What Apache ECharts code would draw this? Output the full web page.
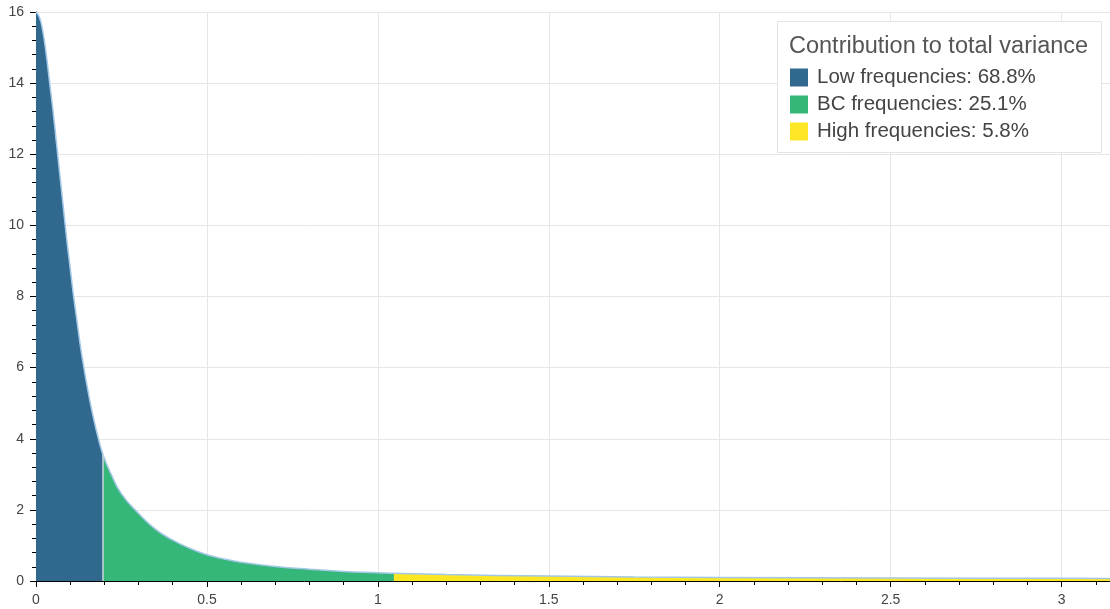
<!DOCTYPE html>
<html>
<head>
<meta charset="utf-8">
<title>Contribution to total variance</title>
<script src="https://cdn.jsdelivr.net/npm/echarts@6/dist/echarts.min.js"></script>
<style>
  html, body { margin: 0; padding: 0; background: #ffffff; }
  #chart { width: 1110px; height: 609px; }
</style>
</head>
<body>
<div id="chart"></div>
<script>
// band edges (2*pi/32 and 2*pi/6)
const bandEdges = [0.196, 1.047];

// spectrum, low frequency band
const lowX = [0, 0.01, 0.02, 0.03, 0.04, 0.05, 0.06, 0.07, 0.08, 0.09, 0.10, 0.11, 0.12, 0.13, 0.14, 0.15, 0.16, 0.17, 0.18, 0.196];
const lowY = [16.0, 15.85, 15.45, 14.8, 14.0, 13.2, 12.3, 11.4, 10.5, 9.6, 8.8, 8.0, 7.3, 6.6, 6.0, 5.45, 4.95, 4.5, 4.1, 3.55];

// business cycle band
const bcX = [0.196, 0.22, 0.25, 0.3, 0.35, 0.4, 0.45, 0.5, 0.55, 0.6, 0.7, 0.8, 0.9, 1.0, 1.047];
const bcY = [3.55, 3.0, 2.45, 1.9, 1.45, 1.15, 0.92, 0.74, 0.62, 0.53, 0.41, 0.33, 0.27, 0.235, 0.215];

// high frequency band
const highX = [1.047, 1.2, 1.5, 1.75, 2.0, 2.5, 3.0, 3.1416];
const highY = [0.215, 0.18, 0.14, 0.115, 0.1, 0.085, 0.075, 0.073];

const bandNames = ['Low frequencies: 68.8%', 'BC frequencies: 25.1%', 'High frequencies: 5.8%'];
const bandColors = ['#31688e', '#35b779', '#fde725'];

const xTicks = [0, 0.5, 1, 1.5, 2, 2.5, 3];
const yTicks = [0, 2, 4, 6, 8, 10, 12, 14, 16];

const FONT = '"Liberation Sans", Arial, Helvetica, sans-serif';
const SMOOTH = 0.5;

function zip(xs, ys) {
  return xs.map((x, i) => [x, ys[i]]);
}

function areaSeries(name, color, data) {
  return {
    name: name,
    type: 'line',
    data: data,
    smooth: SMOOTH,
    symbol: 'none',
    color: color,
    lineStyle: { width: 0, color: color },
    areaStyle: { color: color, opacity: 1 },
    z: 2,
    silent: true,
  };
}

const lowData = zip(lowX, lowY);
const bcData = zip(bcX, bcY);
const highData = zip(highX, highY);
const outline = lowData.concat(bcData.slice(1), highData.slice(1));

const bcSeries = areaSeries(bandNames[1], bandColors[1], bcData);
bcSeries.markLine = {
  silent: true,
  symbol: 'none',
  label: { show: false },
  lineStyle: { color: '#cdd6db', width: 1.5, type: 'solid' },
  data: [[{ coord: [bandEdges[0], 0] }, { coord: [bandEdges[0], bcY[0]] }]],
};

const chart = echarts.init(document.getElementById('chart'), null, { renderer: 'canvas' });

chart.setOption({
  animation: false,
  backgroundColor: '#ffffff',
  textStyle: { fontFamily: FONT },
  grid: { left: 36, right: 0, top: 12, bottom: 28, containLabel: false },
  xAxis: {
    type: 'value',
    min: xTicks[0],
    max: Math.PI,
    interval: 0.5,
    axisLine: { show: true, onZero: false, lineStyle: { color: '#000', width: 1 } },
    axisTick: { show: true, length: 6, lineStyle: { color: '#000' } },
    minorTick: { show: true, splitNumber: 5, length: 4, lineStyle: { color: '#000' } },
    axisLabel: { color: '#444', fontSize: 14, margin: 12, showMaxLabel: false, fontFamily: FONT },
    splitLine: { show: true, lineStyle: { color: '#e6e6e6', width: 1 } },
  },
  yAxis: {
    type: 'value',
    min: yTicks[0],
    max: yTicks[yTicks.length - 1],
    interval: 2,
    axisLine: { show: true, lineStyle: { color: '#000', width: 1 } },
    axisTick: { show: true, length: 6, lineStyle: { color: '#000' } },
    minorTick: { show: true, splitNumber: 5, length: 4, lineStyle: { color: '#000' } },
    axisLabel: { color: '#444', fontSize: 14, margin: 12, fontFamily: FONT },
    splitLine: { show: true, lineStyle: { color: '#e6e6e6', width: 1 } },
  },
  legend: {
    data: bandNames,
    orient: 'vertical',
    left: 790,
    top: 67,
    padding: 0,
    itemWidth: 18,
    itemHeight: 18,
    itemGap: 6,
    icon: 'rect',
    selectedMode: false,
    z: 20,
    textStyle: { color: '#444', fontSize: 20.5, fontFamily: FONT, lineHeight: 20, padding: [0, 0, 0, 4] },
  },
  graphic: [
    {
      type: 'rect',
      z: 10,
      shape: { x: 777.5, y: 21.5, width: 324, height: 131 },
      style: { fill: 'rgba(255,255,255,0.96)', stroke: '#e4e4e4', lineWidth: 1 },
      silent: true,
    },
    {
      type: 'text',
      z: 21,
      x: 789,
      y: 47,
      style: {
        text: 'Contribution to total variance',
        fill: '#555',
        font: '23.5px ' + FONT,
        textVerticalAlign: 'middle',
      },
      silent: true,
    },
  ],
  series: [
    areaSeries(bandNames[0], bandColors[0], lowData),
    bcSeries,
    areaSeries(bandNames[2], bandColors[2], highData),
    {
      name: 'spectrum',
      type: 'line',
      data: outline,
      smooth: SMOOTH,
      symbol: 'none',
      lineStyle: { color: '#a3c8e6', width: 1.5 },
      z: 3,
      silent: true,
    },
  ],
});
</script>
</body>
</html>
